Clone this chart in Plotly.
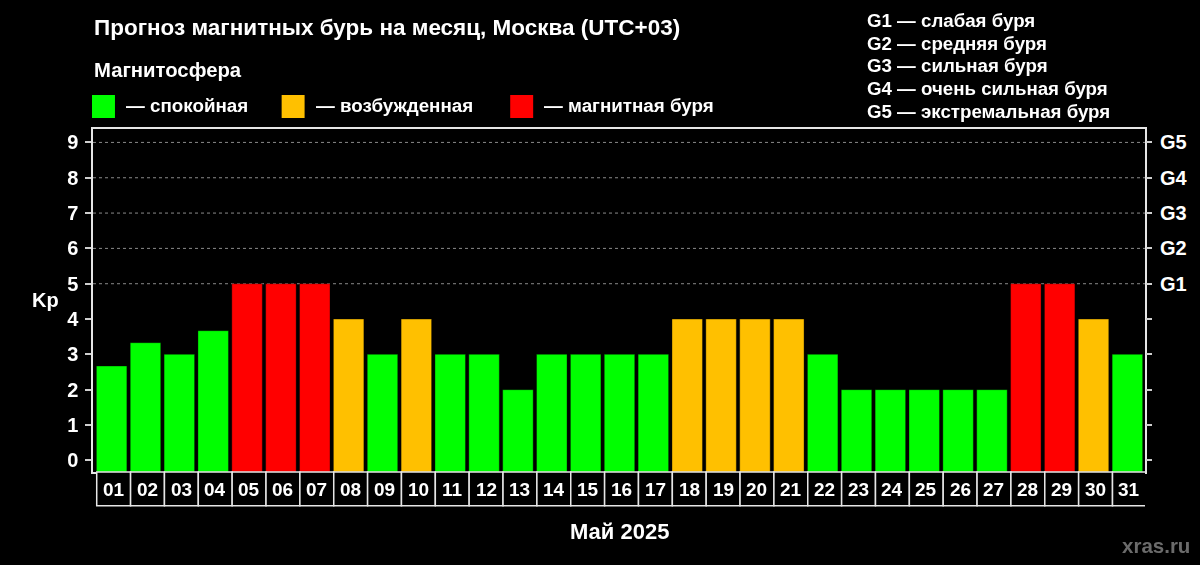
import plotly.graph_objects as go

# ---------------- data ----------------
days = [f"{d:02d}" for d in range(1, 32)]
kp = [2.67, 3.33, 3, 3.67, 5, 5, 5, 4, 3, 4, 3, 3, 2, 3, 3, 3, 3,
      4, 4, 4, 4, 3, 2, 2, 2, 2, 2, 5, 5, 4, 3]
kp_ticks = list(range(0, 10))
g_levels = [5, 6, 7, 8, 9]
g_labels = ["G1", "G2", "G3", "G4", "G5"]
g_desc = ["слабая буря", "средняя буря", "сильная буря",
          "очень сильная буря", "экстремальная буря"]
state_names = ["спокойная", "возбужденная", "магнитная буря"]
state_thresholds = [0, 4, 5]

title_text = "Прогноз магнитных бурь на месяц, Москва (UTC+03)"
month_text = "Май 2025"

# ---------------- styles ----------------
COLORS = ["#00FF00", "#FFC000", "#FF0000"]
FONT = "Liberation Sans, Arial, sans-serif"
W, H = 1200, 565
L, R, T, B = 93, 1147, 129, 471.7
Y_MIN, Y_MAX = -0.33, 9.38


def px(x):
    return (x - L) / (R - L)


def py(y):
    return (B - y) / (B - T)


def state_of(v):
    idx = 0
    for i, th in enumerate(state_thresholds):
        if v >= th:
            idx = i
    return idx


x = list(range(len(days)))
colors = [COLORS[state_of(v)] for v in kp]

fig = go.Figure()
fig.add_trace(go.Bar(
    x=x, y=[v - Y_MIN for v in kp], base=[Y_MIN] * len(kp),
    marker=dict(color=colors, line=dict(color="rgba(0,0,0,0.35)", width=1)),
    width=0.9, hoverinfo="skip", showlegend=False,
))
# invisible trace to attach right axis
fig.add_trace(go.Scatter(x=x, y=kp, mode="markers", opacity=0,
                         yaxis="y2", hoverinfo="skip", showlegend=False))

shapes = []
# dashed grid lines at G levels
for lv in g_levels:
    shapes.append(dict(type="line", xref="paper", yref="y", x0=0, x1=1,
                       y0=lv, y1=lv, layer="below",
                       line=dict(color="#8a8a8a", width=1, dash="3px,3px")))
# day boxes
for i in x:
    shapes.append(dict(type="rect", xref="x", yref="paper",
                       x0=i - 0.5 + 0.06, x1=i + 0.5 + 0.06,
                       y0=py(505.5), y1=py(B),
                       fillcolor="black", line=dict(color="#e6e6e6", width=1.5)))

annotations = []
for i, d in zip(x, days):
    annotations.append(dict(x=i + 0.06, xref="x", y=py(489), yref="paper",
                            text=f"<b>{d}</b>", showarrow=False,
                            font=dict(family=FONT, size=19, color="white"),
                            xanchor="center", yanchor="middle"))

# title and texts
annotations.append(dict(x=px(92), y=py(28), xref="paper", yref="paper",
                        text=f"<b>{title_text}</b>", showarrow=False,
                        xanchor="left", yanchor="middle",
                        font=dict(family=FONT, size=22.5, color="white")))
annotations.append(dict(x=px(92), y=py(70), xref="paper", yref="paper",
                        text="<b>Магнитосфера</b>", showarrow=False,
                        xanchor="left", yanchor="middle",
                        font=dict(family=FONT, size=20.3, color="white")))
legend_sq_x = [92, 282, 511]
for sx, name, col in zip(legend_sq_x, state_names, COLORS):
    shapes.append(dict(type="rect", xref="paper", yref="paper",
                       x0=px(sx), x1=px(sx + 23), y0=py(118), y1=py(95),
                       fillcolor=col, line=dict(width=0)))
    annotations.append(dict(x=px(sx + 32), y=py(106), xref="paper", yref="paper",
                            text=f"<b>— {name}</b>", showarrow=False,
                            xanchor="left", yanchor="middle",
                            font=dict(family=FONT, size=18.8, color="white")))
for k, (g, dsc) in enumerate(zip(g_labels, g_desc)):
    annotations.append(dict(x=px(866), y=py(20.5 + 22.7 * k), xref="paper", yref="paper",
                            text=f"<b>{g} — {dsc}</b>", showarrow=False,
                            xanchor="left", yanchor="middle",
                            font=dict(family=FONT, size=18.7, color="white")))
annotations.append(dict(x=px(45.5), y=py(300), xref="paper", yref="paper",
                        text="<b>Kp</b>", showarrow=False,
                        xanchor="center", yanchor="middle",
                        font=dict(family=FONT, size=20, color="white")))
annotations.append(dict(x=px(620.5), y=py(531), xref="paper", yref="paper",
                        text=f"<b>{month_text}</b>", showarrow=False,
                        xanchor="center", yanchor="middle",
                        font=dict(family=FONT, size=22, color="white")))
annotations.append(dict(x=px(1194), y=py(545), xref="paper", yref="paper",
                        text="<b>xras.ru</b>", showarrow=False,
                        xanchor="right", yanchor="middle",
                        font=dict(family=FONT, size=20.5, color="#6b6b6b")))

right_text = ["" for _ in kp_ticks]
for lv, g in zip(g_levels, g_labels):
    right_text[kp_ticks.index(lv)] = f"<b>{g}</b>"

fig.update_layout(
    width=W, height=H,
    margin=dict(l=L, r=W - R, t=T, b=H - B, pad=0),
    paper_bgcolor="black", plot_bgcolor="black",
    bargap=0.1,
    showlegend=False,
    xaxis=dict(range=[-0.55, 30.52], showticklabels=False, ticks="",
               showgrid=False, zeroline=False,
               showline=True, linecolor="#e6e6e6", linewidth=1.5, mirror=True),
    yaxis=dict(range=[Y_MIN, Y_MAX], tickvals=kp_ticks,
               ticktext=[f"<b>{v}</b>" for v in kp_ticks],
               ticks="outside", ticklen=6, tickcolor="#cfcfcf", tickwidth=1.5,
               ticklabelstandoff=3,
               tickfont=dict(family=FONT, size=20, color="white"),
               showgrid=False, zeroline=False,
               showline=True, linecolor="#e6e6e6", linewidth=1.5, mirror=True),
    yaxis2=dict(range=[Y_MIN, Y_MAX], overlaying="y", side="right",
                tickvals=kp_ticks, ticktext=right_text,
                ticks="outside", ticklen=6, tickcolor="#cfcfcf", tickwidth=1.5,
                ticklabelstandoff=4,
                tickfont=dict(family=FONT, size=20, color="white"),
                showgrid=False, zeroline=False, showline=False),
    shapes=shapes,
    annotations=annotations,
)

fig.write_html(
    "out.html",
    config={"displayModeBar": False},
    post_script="document.body.style.margin='0';document.body.style.background='black';",
)
